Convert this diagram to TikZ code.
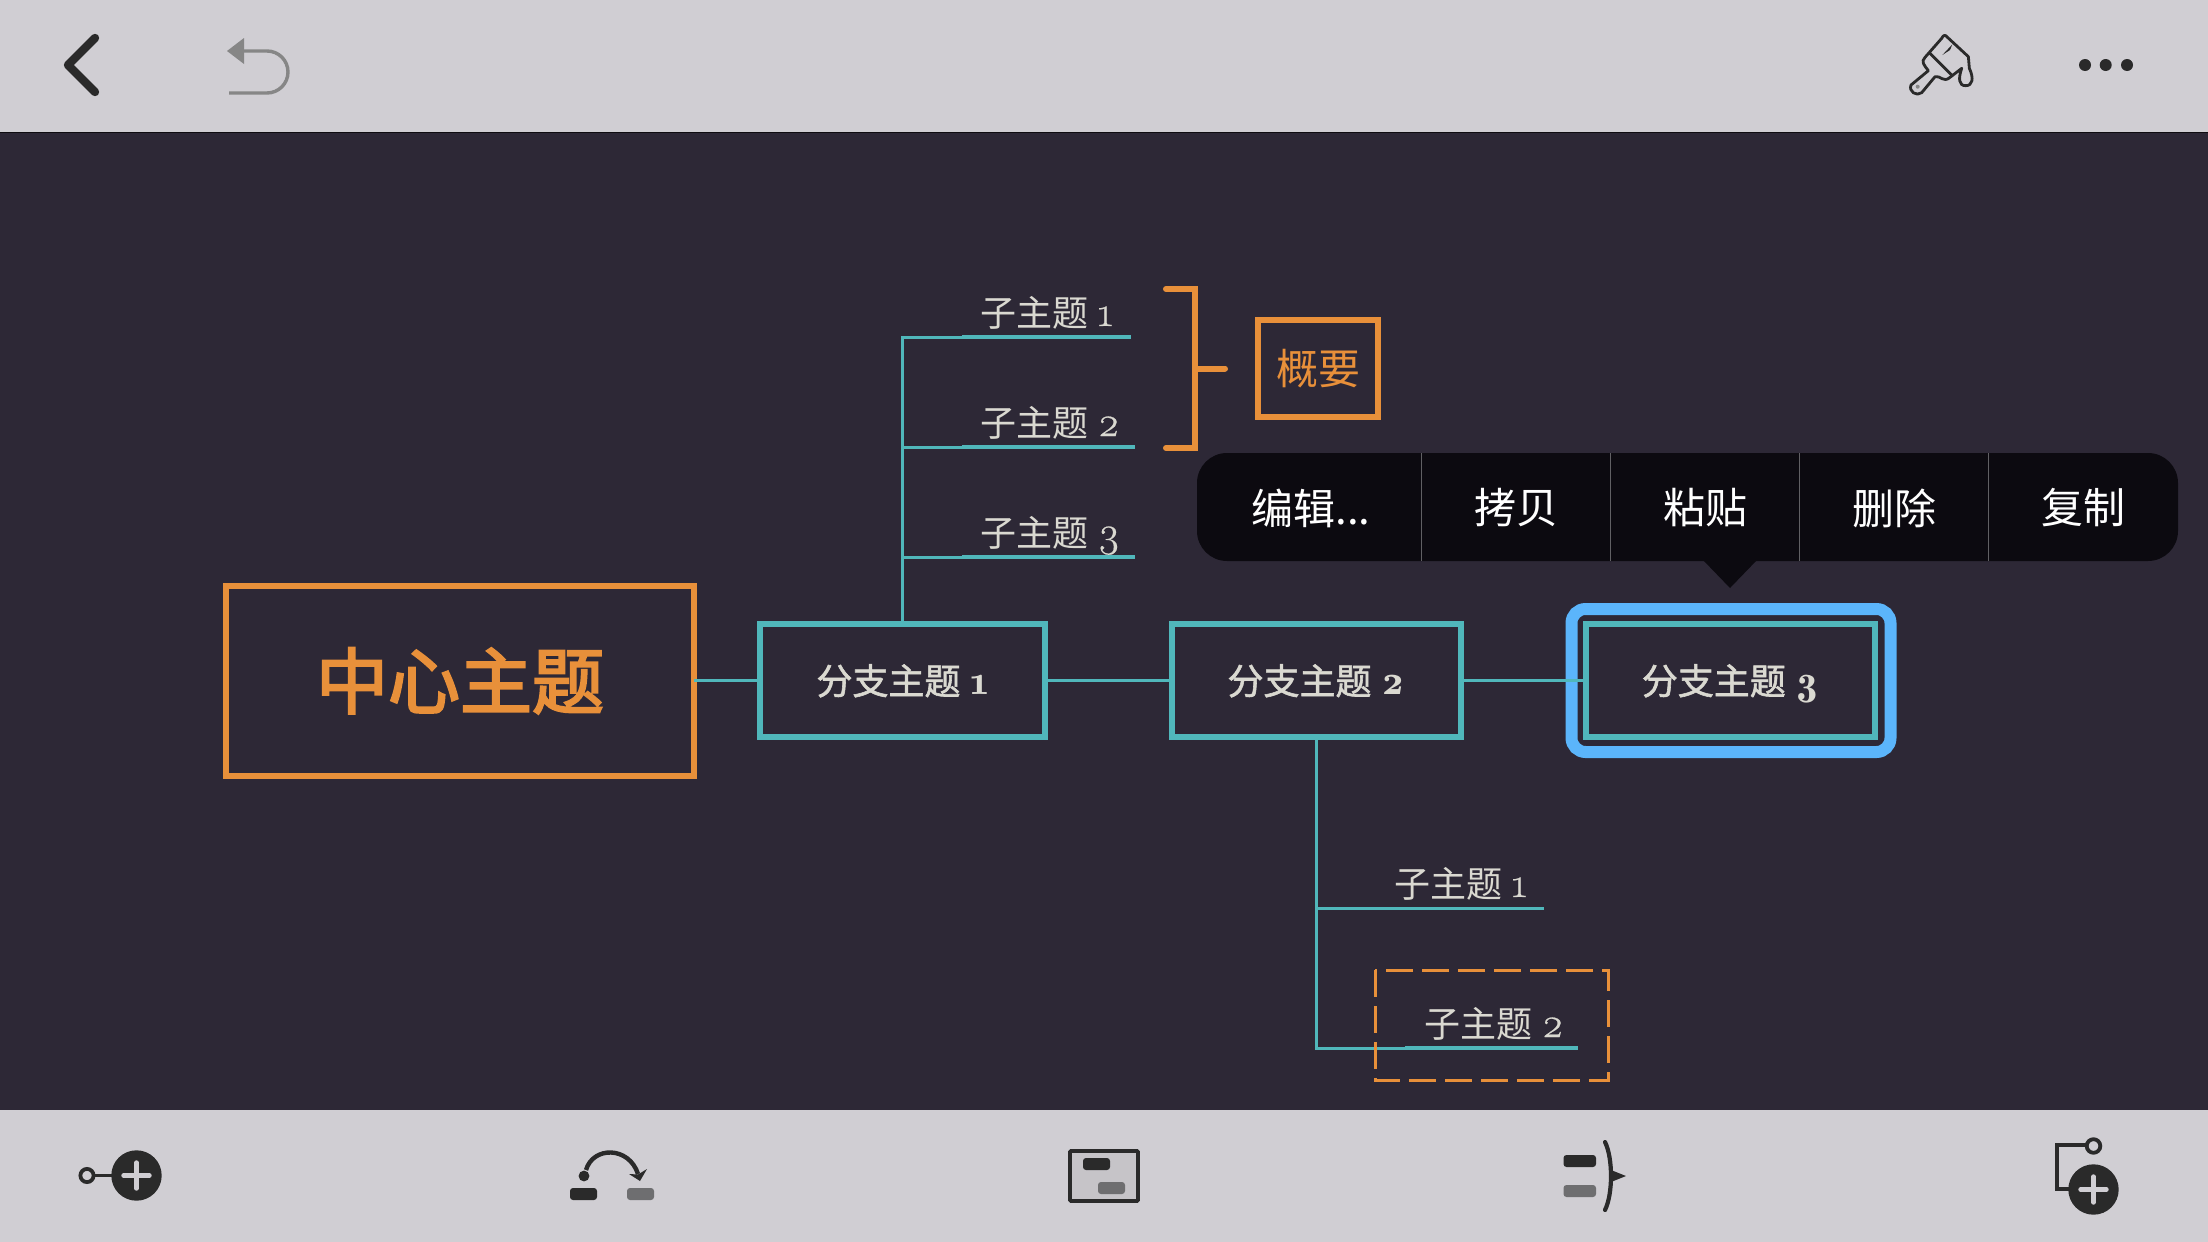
\documentclass[tikz,border=0pt]{standalone}
\usepackage{fontspec}
\newfontfamily\cjk{Noto Sans CJK SC}
\newfontfamily\cjkm{Noto Sans CJK SC}[FakeBold=1.6]
\newfontfamily\cjkb{Noto Sans CJK SC}[FakeBold=3]
\newfontfamily\numf{Latin Modern Roman}[Numbers=OldStyle,FakeBold=0.5]
\newfontfamily\numb{Latin Modern Roman Demi}[Numbers=OldStyle]
\usetikzlibrary{arrows.meta}
\definecolor{barc}{HTML}{D0CED3}
\definecolor{bgc}{HTML}{2D2836}
\definecolor{tealc}{HTML}{50B7BB}
\definecolor{orangec}{HTML}{E8903A}
\definecolor{textc}{HTML}{DAD9D1}
\definecolor{bluec}{HTML}{5BB5FB}
\definecolor{popc}{HTML}{0C0A10}
\definecolor{icon}{HTML}{2A2A2A}
\definecolor{greyc}{HTML}{6E6E70}
\definecolor{undoc}{HTML}{868686}
\tikzset{
  x=0.5pt,y=-0.5pt,
  boxbase/.style={rectangle,inner sep=0pt,outer sep=0pt},
  centerbox/.style={boxbase,draw=orangec,line width=3pt,text=orangec,font=\cjkb\fontsize{36}{36}\selectfont},
  branchbox/.style={boxbase,draw=tealc,line width=3pt,text=textc,font=\cjkm\fontsize{18}{18}\selectfont},
  sumbox/.style={boxbase,draw=orangec,line width=3pt,text=orangec,font=\cjk\fontsize{21}{21}\selectfont},
  sublabel/.style={inner sep=0pt,outer sep=0pt,anchor=base west,text=textc,font=\cjk\fontsize{18}{18}\selectfont},
  popitem/.style={inner sep=0pt,text=white,font=\cjk\fontsize{21}{21}\selectfont},
  conn/.style={draw=tealc,line width=1.5pt},
  uline/.style={draw=tealc,line width=1.75pt},
  iconline/.style={draw=icon,line width=1.9pt},
  rbox/.style={rounded corners=1.5pt},
}
\newcommand{\subt}[1]{子主题\hspace{0.27em}{\numf\fontsize{21}{21}\selectfont #1}}
\newcommand{\brat}[1]{分支主题\hspace{0.27em}\smash{\numb\fontsize{21}{21}\selectfont #1}}
\begin{document}
\begin{tikzpicture}
\useasboundingbox (0,0) rectangle (2208,1242);
% backgrounds
\fill[bgc] (0,0) rectangle (2208,1242);
\fill[barc] (0,0) rectangle (2208,132);
\fill[barc] (0,1110) rectangle (2208,1242);
\draw[black!70!bgc,line width=0.5pt] (0,132.5) -- (2208,132.5);

% coordinates
\coordinate (v1) at (902.5,337);
\coordinate (h1) at (1131,337); \coordinate (h1m) at (962,337);
\coordinate (h2) at (1135,447); \coordinate (h2m) at (962,447); \coordinate (j2) at (902.5,447);
\coordinate (h3) at (1135,557); \coordinate (h3m) at (962,557); \coordinate (j3) at (902.5,557);
\coordinate (w1) at (1316,908.5); \coordinate (w1e) at (1544,908.5);
\coordinate (w2) at (1316,1048); \coordinate (w2e) at (1578,1048); \coordinate (w2m) at (1405,1048);

% nodes
\node[centerbox,minimum width=234pt,minimum height=94.8pt] (c) at (460,680.8) {中心主题};
\node[branchbox,minimum width=142.5pt,minimum height=56.4pt] (b1) at (902.5,680.8) {\brat{1}};
\node[branchbox,minimum width=144.5pt,minimum height=56.4pt] (b2) at (1316,680.8) {\brat{2}};
\draw[bluec,line width=6pt,rounded corners=7pt] (1571.5,609) rectangle (1890.5,752);
\node[branchbox,minimum width=144.5pt,minimum height=56.4pt] (b3) at (1730.5,680.8) {\brat{3}};
\node[sumbox,minimum width=60pt,minimum height=48.5pt] (sum) at (1318,368.5) {概要};

% connectors
\draw[conn] (c.east) -- (b1.west);
\draw[conn,shorten <=1.5pt] (b1.east) -- (b2.west);
\draw[conn,shorten <=1.5pt] (b2.east) -- (b3.west);
\draw[conn] (b1.north) -- (v1) -- (h1m);
\draw[conn] (j2) -- (h2m);
\draw[conn] (j3) -- (h3m);
\draw[uline] (h1m) -- (h1);
\draw[uline] (h2m) -- (h2);
\draw[uline] (h3m) -- (h3);
\draw[conn] (b2.south) -- (w2) -- (w2m);
\draw[conn] (w1) -- (w1e);
\draw[uline] (w2m) -- (w2e);

% labels
\node[sublabel] (s1) at (980,326) {\subt{1}};
\node[sublabel] (s2) at (980,436) {\subt{2}};
\node[sublabel] (s3) at (980,546) {\subt{3}};
\node[sublabel] (s4) at (1394,897) {\subt{1}};
\node[sublabel] (s5) at (1424,1037) {\subt{2}};

% dashed boundary
\draw[orangec,line width=1.5pt,dash pattern=on 13.5pt off 4.5pt] (1375,970) rectangle (1608,1080);

% summary bracket
\coordinate (brt) at (1166,289); \coordinate (brb) at (1166,448);
\coordinate (brc) at (1195,368.5);
\draw[orangec,line width=3pt,line cap=round,miter limit=10] (brt) -- (1195,289) -- (1195,448) -- (brb);
\draw[orangec,line width=3pt,line cap=round] (brc) -- (sum.west -| 1225,368.5);

% popup
\fill[popc,rounded corners=15pt] (1197,453) rectangle (2178,561);
\fill[popc] (1703,560) -- (1757,560) -- (1730,588) -- cycle;
\foreach \sx in {1421,1610.5,1799.5,1988.5}
  \draw[white!35!popc,line width=0.5pt] (\sx,453) -- (\sx,561);
\node[popitem] (p1) at (1311,508) {编辑...};
\node[popitem] (p2) at (1516,508) {拷贝};
\node[popitem] (p3) at (1705.5,508) {粘贴};
\node[popitem] (p4) at (1894,508) {删除};
\node[popitem] (p5) at (2083,508) {复制};

% top icons
\draw[icon,line width=4.2pt,line cap=round,line join=round] (95,38) -- (68,65) -- (95,92);
\fill[undoc] (227,51) -- (244,38) -- (244,64) -- cycle;
\draw[undoc,line width=1.7pt] (244,51) -- (267,51) arc[start angle=90,end angle=-90,radius=10.5pt] -- (229,93);
\begin{scope}[shift={(1850,0)},x=0.1667pt,y=-0.1667pt]
  \draw[icon,line width=1.4pt,line join=round]
    (287,107) -- (355,170) -- (358,205) .. controls (372,235) and (368,257) .. (347,257)
    .. controls (325,257) and (325,235) .. (335,205) -- (300,232) .. controls (280,250) and (270,225) .. (255,230)
    -- (215,278) .. controls (200,290) and (175,275) .. (183,255) -- (235,212) .. controls (222,195) and (212,185) .. (225,172)
    -- (275,115) .. controls (280,105) and (285,105) .. (287,107) -- cycle;
  \draw[icon,line width=1.4pt] (240,160) -- (305,225);
  \fill[icon] (307,133) -- (277,165) -- (300,150) -- cycle;
  \fill[undoc] (203,260) circle[radius=1pt];
\end{scope}
\fill[icon] (2085,65) circle[radius=3pt];
\fill[icon] (2105.7,65) circle[radius=3pt];
\fill[icon] (2127,65) circle[radius=3pt];

% bottom icon 1
\draw[iconline] (95,1175.5) -- (115,1175.5);
\draw[iconline] (87,1175.5) circle[radius=3.3pt];
\fill[icon] (136.5,1175.5) circle[radius=12.6pt];
\draw[barc,line width=2.2pt,line cap=round] (123.5,1175.5) -- (149.5,1175.5);
\draw[barc,line width=2.2pt,line cap=round] (136.5,1162.5) -- (136.5,1188.5);
% bottom icon 2
\fill[icon,rbox] (570,1188) rectangle (597,1200);
\fill[greyc,rbox] (627,1188) rectangle (654,1200);
\fill[icon] (584,1176) circle[radius=2.7pt];
\draw[icon,line width=2.2pt] (586,1170) .. controls (593,1146) and (629,1146) .. (638,1174);
\fill[icon] (647,1169) -- (640,1181) -- (629,1174) -- (638,1174.5) -- cycle;
% bottom icon 3
\draw[icon,line width=1.8pt,fill=barc!95!black,rounded corners=0.5pt] (1070,1151) rectangle (1138,1201);
\fill[icon,rbox] (1083,1158) rectangle (1110,1170);
\fill[greyc,rbox] (1098,1182) rectangle (1125,1194);
% bottom icon 4
\fill[icon,rbox] (1563.5,1155) rectangle (1596,1167);
\fill[greyc,rbox] (1563.5,1185) rectangle (1596,1197);
\draw[icon,line width=2.1pt,line cap=round] (1605,1142) .. controls (1613,1158) and (1613,1194) .. (1605,1210);
\fill[icon] (1611,1170) -- (1626,1176) -- (1611,1182) -- cycle;
% bottom icon 5
\draw[iconline] (2087,1145) -- (2057,1145) -- (2057,1189) -- (2075,1189);
\draw[iconline] (2093.5,1146) circle[radius=3.4pt];
\fill[icon] (2093.5,1189.5) circle[radius=12.6pt];
\draw[barc,line width=2.2pt,line cap=round] (2080.5,1189.5) -- (2106.5,1189.5);
\draw[barc,line width=2.2pt,line cap=round] (2093.5,1176.5) -- (2093.5,1202.5);
\end{tikzpicture}
\end{document}
